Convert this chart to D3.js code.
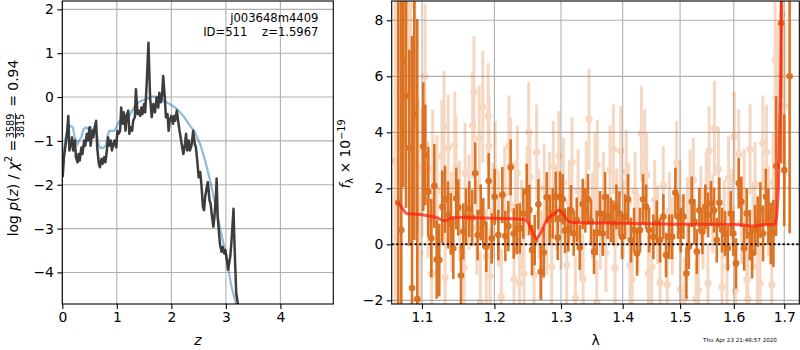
<!DOCTYPE html>
<html><head><meta charset="utf-8">
<script src="https://cdn.jsdelivr.net/npm/d3@7"></script>
<style>
body{margin:0;background:#fff}
svg{display:block}
text{font-family:"DejaVu Sans",sans-serif;fill:#000}
</style>
</head><body>
<svg id="c" width="800" height="350"></svg>
<script>
// ---------------- DATA ----------------
// Left panel: p(z) curve (dark) and comparison curve (blue)
const zDark = [0.007,0.03,0.07,0.09,0.11,0.13,0.16,0.18,0.20,0.23,0.25,0.28,0.30,0.32,0.35,0.37,0.40,0.42,0.45,0.47,0.50,0.52,0.55,0.57,0.59,0.62,0.64,0.67,0.69,0.72,0.74,0.77,0.79,0.81,0.84,0.86,0.89,0.91,0.94,0.96,0.99,1.01,1.03,1.06,1.08,1.11,1.13,1.16,1.18,1.21,1.23,1.25,1.28,1.30,1.33,1.35,1.38,1.40,1.43,1.45,1.47,1.50,1.52,1.55,1.58,1.61,1.64,1.67,1.70,1.73,1.76,1.78,1.81,1.83,1.85,1.88,1.90,1.93,1.95,1.97,2.00,2.03,2.05,2.07,2.10,2.12,2.15,2.17,2.20,2.22,2.25,2.27,2.29,2.32,2.34,2.37,2.40,2.43,2.45,2.48,2.50,2.53,2.55,2.58,2.60,2.62,2.65,2.67,2.70,2.72,2.74,2.77,2.79,2.82,2.83,2.85,2.87,2.89,2.92,2.94,2.97,2.99,3.02,3.04,3.06,3.08,3.10,3.12,3.14,3.15,3.17,3.19,3.21,3.23];
const pDark = [-1.83,-1.37,-1.0,-0.77,-0.43,-1.22,-1.07,-0.92,-1.22,-0.99,-1.37,-1.49,-1.30,-1.45,-1.15,-1.30,-0.99,-1.11,-0.84,-0.99,-0.69,-1.11,-0.77,-0.92,-0.73,-0.54,-1.15,-1.52,-1.60,-1.41,-1.52,-1.37,-1.49,-1.30,-0.92,-1.11,-0.99,-1.22,-1.07,-0.99,-1.15,-0.77,-0.84,-0.77,-0.24,-0.61,-0.35,-0.77,-0.43,-0.31,-0.84,-0.69,-0.77,-0.54,-0.46,0.18,-0.39,-0.31,-0.43,-0.24,-0.39,-0.16,-0.35,0.37,1.24,-0.01,-0.46,-0.16,-0.35,-0.01,-0.24,0.10,-0.12,0.03,0.48,-0.01,-0.46,-0.39,-0.77,-0.54,-0.43,-0.61,-0.43,-0.54,-0.31,-0.50,-0.77,-0.92,-1.15,-1.30,-1.07,-0.84,-1.22,-0.99,-1.22,-1.11,-0.77,-1.07,-1.15,-1.52,-1.83,-1.71,-1.98,-2.51,-2.58,-2.28,-2.05,-1.94,-2.36,-2.43,-2.66,-2.96,-2.74,-2.20,-1.86,-2.74,-3.04,-3.34,-3.53,-3.42,-3.57,-3.49,-3.72,-3.94,-3.79,-3.64,-3.34,-2.96,-2.55,-3.04,-3.79,-4.48,-4.63,-4.86];
const zBlue = [0.0,0.02,0.05,0.09,0.14,0.19,0.23,0.28,0.31,0.35,0.39,0.43,0.48,0.52,0.57,0.59,0.63,0.67,0.70,0.75,0.80,0.83,0.86,0.91,0.95,0.99,1.03,1.08,1.13,1.18,1.23,1.28,1.34,1.40,1.48,1.55,1.64,1.73,1.85,1.97,2.10,2.22,2.34,2.43,2.53,2.62,2.72,2.80,2.89,2.97,3.03,3.09,3.15,3.20,3.25];
const pBlue = [-1.45,-1.30,-0.99,-0.77,-0.65,-0.69,-0.92,-1.07,-0.99,-0.92,-0.73,-0.69,-0.73,-0.69,-0.77,-0.69,-0.84,-1.11,-1.16,-1.16,-1.11,-0.88,-0.77,-0.77,-0.77,-0.69,-0.58,-0.50,-0.46,-0.50,-0.43,-0.31,-0.20,-0.12,-0.07,-0.05,0.01,0.01,-0.08,-0.16,-0.27,-0.43,-0.65,-0.80,-1.08,-1.45,-1.95,-2.42,-2.97,-3.42,-3.79,-4.25,-4.55,-4.78,-5.0];
const zTicks = [0,1,2,3,4];
const pTicks = [-4,-3,-2,-1,0,1,2];

// Right panel: spectrum points (dark = this grism, light = other), model
const darkWave = [1.0691,1.0730,1.0756,1.0791,1.0834,1.0869,1.0899,1.0938,1.1017,1.1044,1.1084,1.1124,1.1164,1.1196,1.1231,1.1272,1.1309,1.1350,1.1387,1.1422,1.1463,1.1490,1.1528,1.1560,1.1597,1.1643,1.1685,1.1727,1.1761,1.1804,1.1841,1.1884,1.1918,1.1961,1.2004,1.2057,1.2115,1.2159,1.2203,1.2237,1.2282,1.2326,1.2371,1.2425,1.2476,1.2515,1.2555,1.2596,1.2651,1.2687,1.2733,1.2779,1.2825,1.2872,1.2918,1.2949,1.2985,1.3027,1.3063,1.3115,1.3157,1.3200,1.3248,1.3296,1.3344,1.3386,1.3429,1.3477,1.3526,1.3570,1.3624,1.3669,1.3707,1.3751,1.3801,1.3845,1.3895,1.3945,1.3990,1.4041,1.4091,1.4141,1.4193,1.4244,1.4295,1.4347,1.4399,1.4451,1.4526,1.4585,1.4643,1.4701,1.4749,1.4802,1.4855,1.4915,1.4963,1.5012,1.5060,1.5114,1.5158,1.5212,1.5261,1.5305,1.5352,1.5407,1.5462,1.5513,1.5569,1.5625,1.5676,1.5725,1.5776,1.5833,1.5884,1.5941,1.5991,1.6043,1.6095,1.6146,1.6199,1.6251,1.6310,1.6355,1.6414,1.6467,1.6519,1.6573,1.6627,1.6679,1.6727,1.6780,1.6834,1.6936,1.7000,1.7110];
const darkFlux = [1.49,0.51,6.55,5.30,3.45,-1.56,4.65,-1.95,3.49,3.19,1.88,0.22,2.09,-0.54,-0.56,1.34,1.61,1.05,0.73,-0.14,1.64,1.32,-1.11,0.46,0.98,1.26,0.95,2.54,0.33,1.14,0.75,-0.09,2.26,0.21,1.70,0.33,1.76,0.30,0.65,2.75,0.39,0.54,0.57,1.10,1.88,1.23,-0.20,0.15,1.43,-0.98,-0.29,1.68,0.87,1.10,1.70,0.24,1.70,1.61,0.49,0.54,1.22,0.39,0.87,-0.11,1.44,1.22,1.61,0.81,-0.26,0.41,1.10,0.39,1.68,0.99,0.87,0.77,1.34,1.10,0.27,0.99,1.61,0.15,0.51,-0.32,0.51,1.61,1.34,0.51,0.27,0.77,0.15,0.99,-0.38,0.27,0.27,1.84,0.99,0.51,0.99,-1.04,-0.09,1.52,0.81,-0.26,1.22,0.45,1.34,1.05,1.46,1.22,0.15,1.49,0.51,0.39,-0.14,1.10,0.39,-0.68,2.18,1.52,-0.14,1.10,0.33,-0.32,0.51,0.81,1.22,0.39,1.70,0.99,0.39,0.39,2.80,7.90,2.65,6.0];
const darkErr = [7.5,8.5,4.5,4.0,3.5,9.0,4.5,10.0,2.3,1.8,1.6,1.4,1.5,1.4,1.3,1.3,1.2,1.2,1.1,1.1,1.1,1.0,1.1,1.0,1.0,1.0,1.0,1.1,0.9,1.0,0.9,0.9,1.0,0.9,1.0,0.9,1.0,0.9,0.9,1.0,0.9,0.9,0.9,0.9,1.0,0.9,0.9,0.9,0.9,1.0,0.9,0.9,0.9,0.9,0.9,0.8,0.9,0.9,0.8,0.8,0.9,0.8,0.8,0.8,0.9,0.8,0.9,0.8,0.8,0.8,0.8,0.8,0.9,0.8,0.8,0.8,0.8,0.8,0.8,0.8,0.9,0.8,0.8,0.8,0.8,0.9,0.8,0.8,0.8,0.8,0.8,0.8,0.8,0.8,0.8,0.9,0.8,0.8,0.8,0.9,0.8,0.9,0.8,0.8,0.8,0.8,0.8,0.8,0.8,0.8,0.8,0.9,0.8,0.8,0.8,0.8,0.8,0.9,0.9,0.9,0.8,0.9,0.9,0.9,0.9,0.9,1.0,1.0,1.0,1.0,1.1,1.2,2.5,5.0,2.0,5.6];

const lightWave = [1.0650,1.0700,1.0760,1.0819,1.0850,1.0907,1.0951,1.0974,1.1000,1.1040,1.1080,1.1128,1.1142,1.1200,1.1267,1.1295,1.1310,1.1352,1.1400,1.1441,1.1460,1.1510,1.1570,1.1585,1.1640,1.1691,1.1709,1.1750,1.1784,1.1800,1.1834,1.1884,1.1910,1.1923,1.1937,1.1980,1.2013,1.2060,1.2100,1.2150,1.2212,1.2237,1.2286,1.2310,1.2336,1.2367,1.2400,1.2435,1.2480,1.2505,1.2525,1.2585,1.2625,1.2660,1.2700,1.2740,1.2780,1.2820,1.2855,1.2880,1.2930,1.2965,1.3000,1.3040,1.3090,1.3130,1.3174,1.3226,1.3270,1.3310,1.3350,1.3400,1.3445,1.3500,1.3540,1.3570,1.3580,1.3630,1.3680,1.3720,1.3789,1.3845,1.3872,1.3900,1.3968,1.4010,1.4060,1.4100,1.4124,1.4160,1.4210,1.4260,1.4318,1.4376,1.4410,1.4440,1.4498,1.4550,1.4600,1.4643,1.4700,1.4770,1.4810,1.4860,1.4938,1.5000,1.5012,1.5087,1.5130,1.5180,1.5240,1.5291,1.5334,1.5380,1.5420,1.5480,1.5510,1.5532,1.5600,1.5632,1.5706,1.5776,1.5820,1.5870,1.5899,1.5960,1.6006,1.6031,1.6095,1.6150,1.6200,1.6251,1.6272,1.6316,1.6370,1.6414,1.6460,1.6513,1.6567,1.6640,1.6680,1.6747,1.6780,1.6814,1.6834,1.6870,1.6960,1.7010];
const lightFlux = [3.0,5.5,6.9,8.25,8.5,7.2,2.81,-0.32,2.56,6.0,1.6,-1.04,2.71,1.9,3.15,4.18,-1.18,3.45,0.8,3.55,2.80,1.2,-0.82,2.54,1.5,4.25,5.43,0.6,3.79,-2.05,4.91,-0.44,4.57,3.51,-1.13,1.2,2.59,0.9,-1.87,1.8,3.52,2.83,-1.25,1.4,2.54,-1.37,0.7,-1.04,1.9,4.0,2.41,-1.10,3.29,1.1,-0.4,2.0,0.4,1.7,-0.8,2.81,1.3,3.16,0.6,2.2,-0.74,1.5,2.93,-1.91,1.9,0.3,-1.24,2.2,4.47,1.0,2.5,-2.07,2.83,0.5,1.8,-0.3,2.65,3.40,-0.84,1.3,3.34,0.9,2.59,1.5,-0.76,-1.25,1.9,0.4,3.96,3.23,2.48,-1.04,-0.8,1.6,0.7,-1.36,2.1,-1.43,1.2,0.3,2.91,1.6,-1.6,-1.9,1.0,2.0,2.3,-1.94,-1.63,1.4,0.5,1.9,-1.39,3.33,1.1,4.14,2.69,-1.51,0.9,-0.8,2.36,1.3,3.84,-1.64,3.22,0.8,1.9,-1.25,-1.94,3.40,0.6,2.15,-0.8,-1.39,3.61,3.29,1.2,-1.45,2.2,6.58,5.27,4.91,8.2,4.94];
const lightErr = [6.0,4.0,3.5,3.0,3.0,3.0,2.4,2.2,2.3,2.6,2.1,2.0,2.1,2.0,2.0,2.0,1.9,1.9,1.8,1.9,1.8,1.8,1.8,1.8,1.7,1.9,2.0,1.7,1.9,1.8,2.0,1.7,1.9,1.8,1.7,1.7,1.8,1.7,1.7,1.7,1.8,1.7,1.7,1.6,1.7,1.6,1.6,1.6,1.6,1.8,1.7,1.6,1.7,1.6,1.6,1.6,1.5,1.6,1.5,1.6,1.5,1.6,1.5,1.6,1.5,1.5,1.6,1.5,1.5,1.5,1.5,1.5,1.8,1.5,1.5,1.5,1.6,1.4,1.5,1.4,1.6,1.6,1.4,1.4,1.6,1.4,1.5,1.4,1.4,1.4,1.4,1.4,1.7,1.6,1.5,1.4,1.4,1.4,1.4,1.4,1.4,1.4,1.4,1.4,1.5,1.4,1.4,1.4,1.4,1.4,1.5,1.4,1.4,1.4,1.4,1.4,1.4,1.6,1.4,1.7,1.5,1.4,1.4,1.4,1.5,1.4,1.6,1.5,1.6,1.5,1.5,1.5,1.5,1.6,1.5,1.5,1.5,1.5,1.7,1.7,1.6,1.6,1.8,2.5,2.5,3.0,3.0,3.0];

const modelWave = [1.069,1.073,1.080,1.090,1.102,1.119,1.131,1.138,1.147,1.170,1.200,1.230,1.243,1.250,1.256,1.262,1.268,1.278,1.290,1.297,1.303,1.308,1.313,1.320,1.335,1.380,1.412,1.460,1.500,1.550,1.603,1.620,1.635,1.657,1.680,1.684,1.686,1.688,1.690,1.693,1.694,1.697];
const modelFlux = [1.50,1.35,1.10,1.08,1.05,0.96,0.84,0.93,0.97,0.95,0.93,0.91,0.89,0.77,0.45,0.21,0.39,0.87,1.10,1.22,1.10,0.92,0.81,0.78,0.77,0.76,0.75,0.74,0.72,0.72,0.71,0.69,0.65,0.70,0.72,0.93,1.4,2.06,3.96,6.34,8.48,10.5];
const lamTicks = [1.1,1.2,1.3,1.4,1.5,1.6,1.7];
const fTicks = [-2,0,2,4,6,8];

const objName = "j003648m4409";
const objInfo = "ID=511    z=1.5967";
const stamp = "Thu Apr 23 21:48:57 2020";

// ---------------- DRAW ----------------
const svg = d3.select("#c");
const FS = 13.9;
const gridCol = "#b0b0b0";

const L = {x0:62.3, x1:333.3, y0:1, y1:304};
const R = {x0:391.7, x1:799.3, y0:1, y1:304};

const xL = d3.scaleLinear().domain([0,4.97]).range([L.x0,L.x1]);
const yL = d3.scaleLinear().domain([-4.72,2.19]).range([L.y1,L.y0]);
const xR = d3.scaleLog().domain([1.0607,1.731]).range([R.x0,R.x1]);
const yR = d3.scaleLinear().domain([-2.13,8.69]).range([R.y1,R.y0]);

const defs = svg.append("defs");
defs.append("clipPath").attr("id","clipL").append("rect")
  .attr("x",L.x0).attr("y",L.y0).attr("width",L.x1-L.x0).attr("height",L.y1-L.y0);
defs.append("clipPath").attr("id","clipR").append("rect")
  .attr("x",R.x0).attr("y",R.y0).attr("width",R.x1-R.x0).attr("height",R.y1-R.y0);

function grid(P, xs, ys, xt, yt){
  const g = svg.append("g");
  g.selectAll(".gx").data(xt).join("line")
    .attr("x1",d=>xs(d)).attr("x2",d=>xs(d)).attr("y1",P.y0).attr("y2",P.y1)
    .attr("stroke",gridCol).attr("stroke-width",1.1);
  g.selectAll(".gy").data(yt).join("line")
    .attr("y1",d=>ys(d)).attr("y2",d=>ys(d)).attr("x1",P.x0).attr("x2",P.x1)
    .attr("stroke",gridCol).attr("stroke-width",1.1);
}
grid(L,xL,yL,zTicks,pTicks);
grid(R,xR,yR,lamTicks,fTicks);

// ---- Left curves
const gL = svg.append("g").attr("clip-path","url(#clipL)");
gL.append("path").datum(zBlue.map((z,i)=>[z,pBlue[i]]))
  .attr("d",d3.line().x(d=>xL(d[0])).y(d=>yL(d[1])))
  .attr("fill","none").attr("stroke","#1f77b4").attr("stroke-opacity",0.5).attr("stroke-width",2.2);
gL.append("path").datum(zDark.map((z,i)=>[z,pDark[i]]))
  .attr("d",d3.line().x(d=>xL(d[0])).y(d=>yL(d[1])))
  .attr("fill","none").attr("stroke","#333333").attr("stroke-opacity",0.95).attr("stroke-width",2.5)
  .attr("stroke-linejoin","round");

// ---- Right spectrum
const gR = svg.append("g").attr("clip-path","url(#clipR)");
const orange = "#d9650f";
const light = lightWave.map((w,i)=>({w, f:lightFlux[i], e:lightErr[i]}));
const dark = darkWave.map((w,i)=>({w, f:darkFlux[i], e:darkErr[i]}));

const gl = gR.append("g").attr("opacity",0.25);
light.forEach(d=>{
  gl.append("line").attr("x1",xR(d.w)).attr("x2",xR(d.w))
    .attr("y1",yR(d.f-d.e)).attr("y2",yR(d.f+d.e))
    .attr("stroke",orange).attr("stroke-width",3);
  gl.append("circle").attr("cx",xR(d.w)).attr("cy",yR(d.f)).attr("r",3.6).attr("fill",orange);
});
const gd = gR.append("g").attr("opacity",0.9);
dark.forEach(d=>{
  gd.append("line").attr("x1",xR(d.w)).attr("x2",xR(d.w))
    .attr("y1",yR(d.f-d.e)).attr("y2",yR(d.f+d.e))
    .attr("stroke",orange).attr("stroke-width",2.6);
  gd.append("circle").attr("cx",xR(d.w)).attr("cy",yR(d.f)).attr("r",3.3).attr("fill",orange);
});
gR.append("path").datum(modelWave.map((w,i)=>[w,modelFlux[i]]))
  .attr("d",d3.line().x(d=>xR(d[0])).y(d=>yR(d[1])).curve(d3.curveMonotoneX))
  .attr("fill","none").attr("stroke","#ff2010").attr("stroke-opacity",0.75).attr("stroke-width",3);
gR.append("line").attr("x1",R.x0).attr("x2",R.x1).attr("y1",yR(0)).attr("y2",yR(0))
  .attr("stroke","#000").attr("stroke-width",2).attr("stroke-dasharray","2,2.6");

// ---- frames and axes
function frame(P){
  svg.append("rect").attr("x",P.x0).attr("y",P.y0).attr("width",P.x1-P.x0).attr("height",P.y1-P.y0)
    .attr("fill","none").attr("stroke","#000").attr("stroke-width",1.1);
}
frame(L); frame(R);

function styleAxis(g){
  g.select(".domain").remove();
  g.selectAll(".tick line").attr("stroke","#000").attr("stroke-width",1.1);
  g.selectAll(".tick text").attr("font-size",FS).attr("font-family","DejaVu Sans").attr("fill","#000");
}
svg.append("g").attr("transform",`translate(0,${L.y1})`)
  .call(d3.axisBottom(xL).tickValues(zTicks).tickSize(4.9).tickPadding(3.5).tickFormat(d3.format("d")))
  .call(styleAxis);
svg.append("g").attr("transform",`translate(${L.x0},0)`)
  .call(d3.axisLeft(yL).tickValues(pTicks).tickSize(4.9).tickPadding(3.5).tickFormat(d3.format("d")))
  .call(styleAxis);
svg.append("g").attr("transform",`translate(0,${R.y1})`)
  .call(d3.axisBottom(xR).tickValues(lamTicks).tickSize(4.9).tickPadding(3.5).tickFormat(d3.format(".1f")))
  .call(styleAxis);
svg.append("g").attr("transform",`translate(${R.x0},0)`)
  .call(d3.axisLeft(yR).tickValues(fTicks).tickSize(4.9).tickPadding(3.5).tickFormat(d3.format("d")))
  .call(styleAxis);

// ---- axis labels
svg.append("text").attr("x",(L.x0+L.x1)/2).attr("y",345).attr("text-anchor","middle")
  .attr("font-size",FS).attr("font-style","italic").text("z");
svg.append("text").attr("x",(R.x0+R.x1)/2).attr("y",345).attr("text-anchor","middle")
  .attr("font-size",FS).text("λ");

// left y label (mathtext-like)
(function(){
  const g = svg.append("g");
  const t = g.append("text").attr("font-size",FS);
  t.append("tspan").text("log ");
  t.append("tspan").attr("font-style","italic").text("p");
  t.append("tspan").text("(");
  t.append("tspan").attr("font-style","italic").text("z");
  t.append("tspan").text(") / ");
  t.append("tspan").attr("font-style","italic").text("χ");
  t.append("tspan").attr("font-size",9.7).attr("dy",-5.5).text("2");
  t.append("tspan").attr("dy",5.5).text(" = ");
  const w1 = t.node().getComputedTextLength() + 1;
  const num = g.append("text").attr("font-size",9.7).attr("text-anchor","middle").attr("y",-4).text("3589");
  const fw = num.node().getComputedTextLength() + 1;
  num.attr("x", w1 + fw/2);
  g.append("text").attr("font-size",9.7).attr("text-anchor","middle").attr("x",w1+fw/2).attr("y",6).text("3815");
  g.append("line").attr("x1",w1).attr("x2",w1+fw).attr("y1",-2).attr("y2",-2).attr("stroke","#000").attr("stroke-width",0.8);
  const t2 = g.append("text").attr("font-size",FS).attr("x",w1+fw+2).attr("xml:space","preserve").style("white-space","pre").text(" = 0.94");
  const total = w1 + fw + 2 + t2.node().getComputedTextLength();
  g.attr("transform",`translate(17.5,${148+total/2}) rotate(-90)`);
})();

// right y label
(function(){
  const g = svg.append("g");
  const t = g.append("text").attr("font-size",FS);
  t.append("tspan").attr("font-style","italic").text("f");
  t.append("tspan").attr("font-size",9.7).attr("dy",3).text("λ");
  t.append("tspan").attr("dy",-3).text(" × 10");
  t.append("tspan").attr("font-size",9.7).attr("dy",-5.5).text("−19");
  const total = t.node().getComputedTextLength();
  g.attr("transform",`translate(350,${154+total/2}) rotate(-90)`);
})();

// annotation
svg.append("text").attr("x",318.5).attr("y",22).attr("text-anchor","end").attr("font-size",11.6).text(objName);
svg.append("text").attr("x",318.5).attr("y",36).attr("text-anchor","end").attr("font-size",11.6)
  .attr("xml:space","preserve").style("white-space","pre").text(objInfo);
// timestamp
svg.append("text").attr("x",740).attr("y",342).attr("text-anchor","middle").attr("font-size",5.6).text(stamp);
</script>
</body></html>
